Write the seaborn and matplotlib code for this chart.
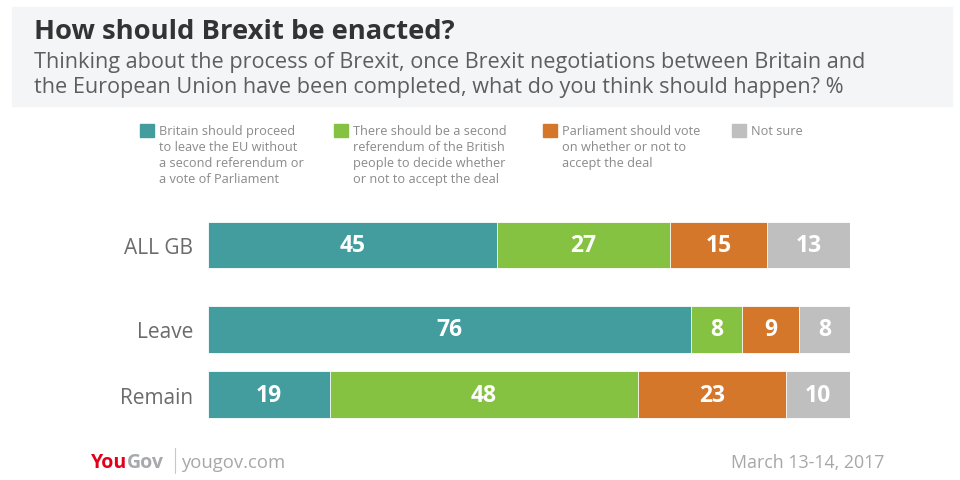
import numpy as np
import pandas as pd
import matplotlib.pyplot as plt
from matplotlib.patches import Rectangle
from matplotlib.lines import Line2D
import seaborn as sns

# DATA
groups = ['ALL GB', 'Leave', 'Remain']
answers = [
    'Britain should proceed\nto leave the EU without\na second referendum or\na vote of Parliament',
    'There should be a second\nreferendum of the British\npeople to decide whether\nor not to accept the deal',
    'Parliament should vote\non whether or not to\naccept the deal',
    'Not sure',
]
proceed = [45, 76, 19]
second_ref = [27, 8, 48]
parliament = [15, 9, 23]
not_sure = [13, 8, 10]

title = 'How should Brexit be enacted?'
subtitle = ['Thinking about the process of Brexit, once Brexit negotiations between Britain and',
            'the European Union have been completed, what do you think should happen? %']
date_text = 'March 13-14, 2017'

colors = ['#439c9d', '#86c241', '#d5772a', '#bfbfbf']
row_pos = [0, 1.3, 2.3]  # ALL GB sits a bit apart from the subgroups

# CALCULATIONS
vals = np.array([proceed, second_ref, parliament, not_sure]).T
share = vals / vals.sum(axis=1, keepdims=True) * 100
cum = share.cumsum(axis=1)

# PLOTTING
sns.set_style('white')
plt.rcParams['font.family'] = ['Open Sans', 'DejaVu Sans']

W, H = 960, 481
fig = plt.figure(figsize=(9.6, 4.81), dpi=100)

def fx(px):
    return px / W

def fy(py):
    return 1 - py / H

# header box
fig.patches.append(Rectangle((fx(12), fy(107)), fx(940), 99 / H,
                             transform=fig.transFigure, color='#f4f5f7', zorder=0))
fig.text(fx(34), fy(39), title, fontsize=19.7, fontweight='bold', color='#333333', va='baseline')
for k, line in enumerate(subtitle):
    fig.text(fx(34), fy(68 + 25 * k), line, fontsize=15.6, color='#5e5e5e', va='baseline')

ax = fig.add_axes([fx(208), fy(428), fx(642), 214.5 / H])
for i in reversed(range(4)):
    part = pd.DataFrame({'pos': row_pos, 'cum': cum[:, i]})
    sns.barplot(data=part, x='cum', y='pos', orient='y', native_scale=True,
                color=colors[i], saturation=1, width=0.72, errorbar=None,
                edgecolor='white', linewidth=0.6, ax=ax)

for r in range(len(groups)):
    for i in range(4):
        ax.text(cum[r, i] - share[r, i] / 2, row_pos[r], str(vals[r, i]),
                ha='center', va='center', color='white', fontsize=16.5, fontweight='bold')

ax.set_xlim(0, 100)
ax.set_ylim(2.8, -0.5)
ax.set_xticks([])
ax.set_yticks(row_pos)
ax.set_yticklabels(groups)
ax.tick_params(axis='y', length=0, pad=10.5, labelsize=15, labelcolor='#6b6b6b')
ax.set_xlabel('')
ax.set_ylabel('')
sns.despine(ax=ax, left=True, bottom=True)

# legend
sq_x = [140, 334, 543, 732]
for i, lab in enumerate(answers):
    fig.patches.append(Rectangle((fx(sq_x[i]), fy(138)), fx(14), 13 / H,
                                 transform=fig.transFigure, color=colors[i]))
    fig.text(fx(sq_x[i] + 19), fy(125), lab, fontsize=9.2, color='#8a8a8a',
             va='top', linespacing=1.3)

# footer
rend = fig.canvas.get_renderer()
t_you = fig.text(fx(91), fy(468), 'You', fontsize=14, fontweight='bold', color='#e2001a', va='baseline')
bb = t_you.get_window_extent(rend)
fig.text(bb.x1 / W, fy(468), 'Gov', fontsize=14, fontweight='bold', color='#a7a9ac', va='baseline')
fig.lines.append(Line2D([fx(175), fx(175)], [fy(449), fy(474)], transform=fig.transFigure,
                       color='#c8c8c8', linewidth=0.8))
fig.text(fx(181), fy(468), 'yougov.com', fontsize=13.3, color='#a7a7a7', va='baseline')
fig.text(fx(884), fy(468), date_text, fontsize=12.8, color='#a7a7a7', va='baseline', ha='right')

plt.savefig('out.png', dpi=100)
